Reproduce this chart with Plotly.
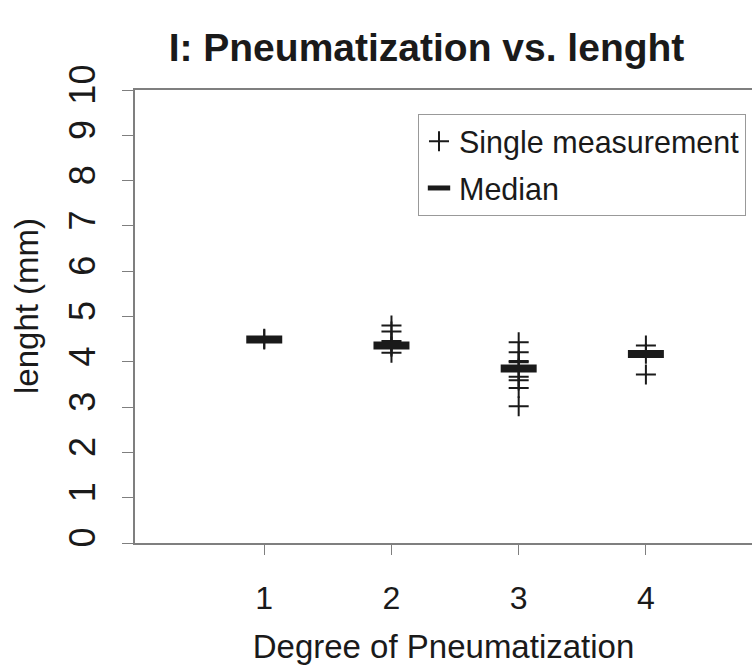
import plotly.graph_objects as go

# Degree of pneumatization (x categories)
degrees = [1, 2, 3, 4]

# Single length measurements (mm) per degree
single_1 = [4.49, 4.51]
single_2 = [4.80, 4.67, 4.46, 4.36, 4.33, 4.20]
single_3 = [4.43, 4.21, 4.02, 3.99, 3.85, 3.67, 3.59, 3.42, 3.02]
single_4 = [4.36, 4.18, 3.72]

# Median length (mm) per degree
medians = [4.49, 4.36, 3.85, 4.17]

y_ticks = [0, 1, 2, 3, 4, 5, 6, 7, 8, 9, 10]

FONT = "Liberation Sans, Arial, sans-serif"
INK = "#1a1a1a"
FRAME = "#7f7f7f"

groups = [single_1, single_2, single_3, single_4]
xs, ys = [], []
for d, vals in zip(degrees, groups):
    xs += [d] * len(vals)
    ys += vals

fig = go.Figure()

fig.add_trace(go.Scatter(
    x=xs, y=ys, mode="markers", name="Single measurement",
    legendgroup="a",
    marker=dict(symbol="cross-thin", size=14.3, color=INK,
                line=dict(color=INK, width=2)),
))
fig.add_trace(go.Scatter(
    x=degrees, y=medians, mode="markers", name="Median",
    legendgroup="b",
    marker=dict(symbol="line-ew", size=25.7, color=INK,
                line=dict(color=INK, width=8)),
))

fig.update_layout(
    width=752, height=665,
    margin=dict(l=135, r=0, t=90, b=122),
    paper_bgcolor="white", plot_bgcolor="white",
    font=dict(family=FONT, color=INK, size=32),
    title=dict(text="<b>I: Pneumatization vs. lenght</b>",
               font=dict(family=FONT, size=39, color=INK),
               x=426.5 / 752, xanchor="center", xref="container",
               y=1 - 47 / 665, yanchor="middle", yref="container"),
    legend=dict(x=(418 - 135) / 617, y=(543 - 114) / 453,
                xanchor="left", yanchor="top",
                bordercolor="#999999", borderwidth=1,
                bgcolor="white", tracegroupgap=4,
                font=dict(family=FONT, size=30.5, color=INK)),
    showlegend=True,
    annotations=[dict(
        text="lenght (mm)", textangle=-90, showarrow=False,
        xref="paper", yref="paper",
        x=(26 - 135) / 617, y=(543 - 306) / 453,
        xanchor="center", yanchor="middle",
        font=dict(family=FONT, size=33, color=INK),
    )],
)

fig.update_xaxes(
    range=[-0.016, 4.834], tickvals=degrees,
    showgrid=False, zeroline=False, automargin=False,
    showline=True, linecolor=FRAME, linewidth=2, mirror=True,
    ticks="outside", ticklen=10, tickwidth=1, tickcolor=FRAME,
    ticklabelstandoff=16,
    tickfont=dict(size=32, color=INK),
    title=dict(text="Degree of Pneumatization",
               font=dict(size=33, color=INK), standoff=20),
)
fig.update_yaxes(
    range=[0, 10], tickvals=y_ticks, tickangle=-90,
    showgrid=False, zeroline=False, automargin=False, mirror=False,
    showline=True, linecolor=FRAME, linewidth=2,
    ticks="outside", ticklen=11, tickwidth=1, tickcolor=FRAME,
    ticklabelstandoff=13,
    tickfont=dict(size=36, color=INK),
)

fig.write_html("out.html")
